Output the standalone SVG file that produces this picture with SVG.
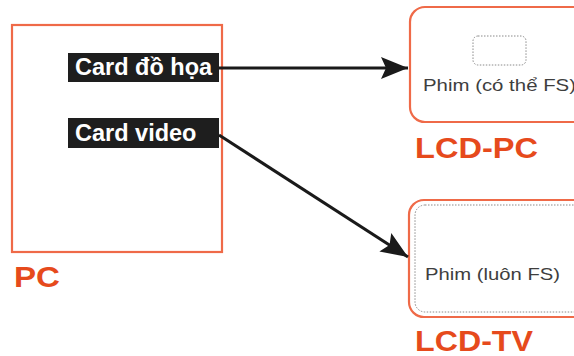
<svg xmlns="http://www.w3.org/2000/svg" width="574" height="356" viewBox="0 0 574 356">
<style>
.box{fill:#fff;stroke:#ef6a48;stroke-width:2.2}
.dot{fill:none;stroke:#8a8a8a;stroke-width:1;stroke-dasharray:1.5 1.5}
.card{fill:#1e1e1e}
.cardt{font-family:"Liberation Sans",Arial,sans-serif;font-weight:bold;font-size:23.5px;fill:#fff}
.lbl{font-family:"Liberation Sans",Arial,sans-serif;font-weight:bold;font-size:29px;fill:#e64a1c}
.scr{font-family:"Liberation Sans",Arial,sans-serif;font-size:17px;fill:#3e3e3e}
.con{stroke:#1a1a1a;stroke-width:3;fill:none}
</style>
<defs>
<marker id="ah" markerUnits="userSpaceOnUse" markerWidth="30" markerHeight="24" refX="27" refY="11" orient="auto">
<path d="M0,0 L27,11 L0,22 L5,11 z" fill="#1a1a1a"/>
</marker>
</defs>
<rect width="574" height="356" fill="#fff"/>
<g id="pc">
<rect class="box" x="12" y="25" width="210" height="227"/>
<text class="lbl" x="14" y="287" textLength="46" lengthAdjust="spacingAndGlyphs">PC</text>
</g>
<g id="card-do-hoa">
<rect class="card" x="68" y="53" width="151" height="29"/>
<text class="cardt" x="75" y="75">Card đồ họa</text>
</g>
<g id="card-video">
<rect class="card" x="68" y="118" width="151" height="30"/>
<text class="cardt" x="75" y="141">Card video</text>
</g>
<g id="lcd-pc">
<rect class="box" x="410" y="7" width="190" height="115" rx="15"/>
<rect class="dot" x="473" y="36" width="53" height="29" rx="5"/>
<text class="scr" x="423" y="91" textLength="153" lengthAdjust="spacingAndGlyphs">Phim (có thể FS)</text>
<text class="lbl" x="415" y="158" textLength="123" lengthAdjust="spacingAndGlyphs">LCD-PC</text>
</g>
<g id="lcd-tv">
<rect class="box" x="409" y="200" width="190" height="117" rx="15"/>
<rect class="dot" x="415" y="205" width="180" height="107" rx="10"/>
<text class="scr" x="425" y="280" textLength="135" lengthAdjust="spacingAndGlyphs">Phim (luôn FS)</text>
<text class="lbl" x="415" y="351" textLength="118" lengthAdjust="spacingAndGlyphs">LCD-TV</text>
</g>
<g id="connectors">
<line class="con" x1="219" y1="68" x2="408" y2="68" marker-end="url(#ah)"/>
<line class="con" x1="219" y1="135" x2="408" y2="257" marker-end="url(#ah)"/>
</g>
</svg>
